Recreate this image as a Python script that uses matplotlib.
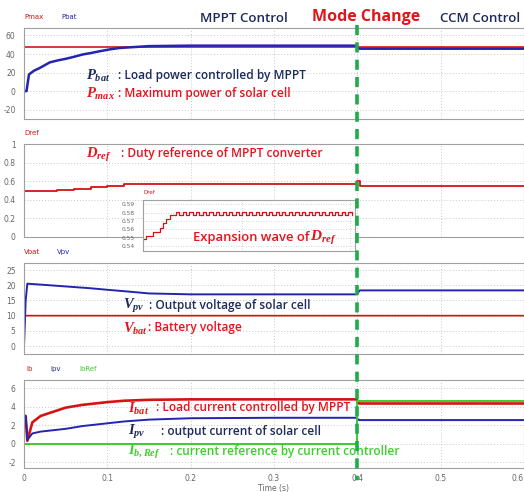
import numpy as np
import matplotlib
matplotlib.use("Agg")
import matplotlib.pyplot as plt
import matplotlib.transforms as mtransforms
from matplotlib.lines import Line2D

plt.rcParams['font.family'] = ['Open Sans', 'DejaVu Sans']
plt.rcParams['mathtext.fontset'] = 'custom'
plt.rcParams['mathtext.it'] = 'Liberation Serif:italic:bold'
plt.rcParams['mathtext.rm'] = 'Liberation Serif:bold'
plt.rcParams['mathtext.bf'] = 'Liberation Serif:bold'

# ---- data (time in s) ----
t_pbat = [0, 0.003, 0.006, 0.012, 0.019, 0.025, 0.031, 0.04, 0.051, 0.06, 0.071,
          0.08, 0.091, 0.103, 0.115, 0.131, 0.15, 0.2, 0.25, 0.3, 0.35, 0.399,
          0.402, 0.45, 0.5, 0.55, 0.6]
p_bat = [0, 0, 18, 22, 25, 28, 31, 33, 35, 37, 39.6,
         41, 43, 45, 46.5, 47.4, 48.5, 49, 49, 49, 49, 49,
         45.7, 45.7, 45.7, 45.7, 45.7]
t_pmax = [0, 0.6]
p_max = [48, 48]

t_dref = [0, 0.02, 0.04, 0.06, 0.08, 0.1, 0.12, 0.14, 0.4, 0.403, 0.6]
d_ref = [0.49, 0.50, 0.51, 0.52, 0.535, 0.55, 0.565, 0.575, 0.605, 0.545, 0.545]

# expansion (zoomed) Dref wave, one value per half period
inset_levels = [0.548, 0.552, 0.552, 0.557, 0.557, 0.562, 0.567, 0.572, 0.577, 0.577,
                0.581, 0.577, 0.581, 0.577, 0.581, 0.577, 0.581, 0.577, 0.581, 0.577,
                0.581, 0.577, 0.581, 0.577, 0.581, 0.577, 0.581, 0.577, 0.581, 0.577,
                0.581, 0.577, 0.581, 0.577, 0.581, 0.577, 0.581, 0.577, 0.581, 0.577,
                0.581, 0.577, 0.581, 0.577, 0.581, 0.577, 0.581, 0.577, 0.581, 0.577,
                0.581, 0.577, 0.581, 0.577, 0.581, 0.577, 0.581, 0.577, 0.581, 0.577,
                0.581, 0.577, 0.581, 0.577]

t_vpv = [0, 0.002, 0.004, 0.02, 0.05, 0.08, 0.1, 0.13, 0.15, 0.2, 0.3, 0.399,
         0.403, 0.45, 0.6]
v_pv = [0, 15, 20.5, 20.2, 19.6, 19.0, 18.5, 17.8, 17.3, 17.0, 17.0, 17.0,
        18.3, 18.3, 18.3]
t_vbat = [0, 0.001, 0.6]
v_bat = [5, 10, 10]

t_i = [0, 0.002, 0.004, 0.01, 0.02, 0.03, 0.05, 0.07, 0.1, 0.12, 0.15, 0.2,
       0.3, 0.399, 0.402, 0.6]
i_b = [3.0, 3.0, 0.3, 2.3, 3.0, 3.3, 3.9, 4.2, 4.5, 4.65, 4.75, 4.8,
       4.8, 4.8, 4.35, 4.35]
i_pv = [3.0, 3.0, 0.4, 1.1, 1.3, 1.4, 1.6, 1.9, 2.2, 2.4, 2.6, 2.75,
        2.8, 2.8, 2.55, 2.55]
t_ibref = [0, 0.4, 0.4, 0.6]
i_bref = [0, 0, 4.65, 4.65]

time_ticks = [0, 0.1, 0.2, 0.3, 0.4, 0.5, 0.6]
time_labels = ['0', '0.1', '0.2', '0.3', '0.4', '0.5', '0.6']
mode_change_t = 0.4

RED = '#d41414'
BLUE = '#2424b0'
GREEN = '#3ccc2c'
NAVY = '#1d2a5c'
TXT_RED = '#e3141c'
TXT_GREEN = '#3ccf2c'
DASH_GREEN = '#1faa4b'

W, H = 524, 492
fig = plt.figure(figsize=(W / 100, H / 100), dpi=100)


def px_box(left, top, right, bottom):
    return [left / W, 1 - bottom / H, (right - left) / W, (bottom - top) / H]


def style_axis(ax, yticks, ylabels, ylim, show_x=False):
    ax.set_xlim(0, 0.6)
    ax.set_ylim(*ylim)
    ax.set_xticks(time_ticks)
    ax.set_yticks(yticks)
    ax.set_yticklabels(ylabels, family='DejaVu Sans')
    if show_x:
        ax.set_xticklabels(time_labels, family='DejaVu Sans')
    else:
        ax.set_xticklabels([])
    ax.tick_params(length=0, labelsize=5.5, labelcolor='#666666', pad=6)
    ax.grid(True, color='#c8c8c8', linestyle=(0, (1, 2)), linewidth=0.7)
    for s in ax.spines.values():
        s.set_color('#a0a0a0')
        s.set_linewidth(0.8)


def ftext(x, y, s, **kw):
    return fig.text(x / W, 1 - y / H, s, va='center', ha='left', **kw)


def label(x_sym, x_desc, y, sym, desc, color):
    # symbol in bold italic serif, description in semibold sans
    ftext(x_sym, y + 1, sym, color=color, fontsize=10.5, zorder=10)
    ftext(x_desc, y, desc, color=color, fontsize=8.6, fontweight='semibold', zorder=10)


# panel 1 : power
ax1 = fig.add_axes(px_box(24, 28, 524, 119))
ax1.plot(t_pmax, p_max, color=RED, lw=1.2)
ax1.plot(t_pbat, p_bat, color=BLUE, lw=1.8)
style_axis(ax1, [-20, 0, 20, 40, 60], ['-20', '0', '20', '40', '60'], (-30, 68))

# panel 2 : duty reference
ax2 = fig.add_axes(px_box(24, 144, 524, 237))
ax2.plot(t_dref, d_ref, color=RED, lw=1.3, drawstyle='steps-post')
style_axis(ax2, [0, 0.2, 0.4, 0.6, 0.8, 1], ['0', '0.2', '0.4', '0.6', '0.8', '1'], (0, 1))

# panel 3 : voltages
ax3 = fig.add_axes(px_box(24, 263, 524, 354))
ax3.plot(t_vbat, v_bat, color=RED, lw=1.2)
ax3.plot(t_vpv, v_pv, color=BLUE, lw=1.4)
style_axis(ax3, [0, 5, 10, 15, 20, 25], ['0', '5', '10', '15', '20', '25'], (-2.6, 27.3))

# panel 4 : currents
ax4 = fig.add_axes(px_box(24, 380, 524, 468))
ax4.plot(t_i, i_b, color=RED, lw=1.9)
ax4.plot(t_i, i_pv, color=BLUE, lw=1.4)
ax4.plot(t_ibref, i_bref, color=GREEN, lw=1.4)
style_axis(ax4, [-2, 0, 2, 4, 6], ['-2', '0', '2', '4', '6'], (-2.65, 6.9), show_x=True)
ax4.tick_params(axis='x', pad=4)
ax4.get_xticklabels()[-1].set_horizontalalignment('right')
ftext(273, 488, 'Time (s)', fontsize=5.5, color='#666666', family='DejaVu Sans').set_ha('center')

# inset with the expanded Dref wave
axi = fig.add_axes(px_box(143, 200, 355, 251))
axi.plot(np.arange(len(inset_levels)), inset_levels, color=RED, lw=0.9,
         drawstyle='steps-post')
axi.set_xlim(0, 64)
axi.set_ylim(0.534, 0.595)
axi.set_xticks([30, 62.5])
axi.set_xticklabels([])
axi.set_yticks([0.54, 0.55, 0.56, 0.57, 0.58, 0.59])
axi.set_yticklabels(['0.54', '0.55', '0.56', '0.57', '0.58', '0.59'], family='DejaVu Sans')
axi.tick_params(length=0, labelsize=4.2, labelcolor='#666666', pad=6)
axi.grid(True, color='#c8c8c8', linestyle=(0, (1, 2)), linewidth=0.6)
for s in axi.spines.values():
    s.set_color('#a0a0a0')
    s.set_linewidth(0.8)
axi.set_zorder(5)

# small series names above panels
small = dict(fontsize=5, family='DejaVu Sans')
ftext(24, 17, 'Pmax', color=RED, **small)
ftext(61, 17, 'Pbat', color=BLUE, **small)
ftext(24, 133, 'Dref', color=RED, **small)
ftext(143, 193, 'Dref', color=RED, fontsize=4, family='DejaVu Sans')
ftext(24, 252, 'Vbat', color=RED, **small)
ftext(57, 252, 'Vpv', color=BLUE, **small)
ftext(26, 369, 'Ib', color=RED, **small)
ftext(50, 369, 'Ipv', color=BLUE, **small)
ftext(79, 369, 'IbRef', color=GREEN, **small)

# headers
ftext(200, 18, 'MPPT Control', color=NAVY, fontsize=9.6, fontweight='semibold')
ftext(312, 17, 'Mode Change', color=TXT_RED, fontsize=11.5, fontweight='bold')
ftext(440, 18, 'CCM Control', color=NAVY, fontsize=9.6, fontweight='semibold')

# annotations
label(86, 118, 75, r'$P_{bat}$', ': Load power controlled by MPPT', NAVY)
label(86, 118, 93, r'$P_{max}$', ': Maximum power of solar cell', TXT_RED)
label(86, 121, 154, r'$D_{ref}$', ': Duty reference of MPPT converter', TXT_RED)
ftext(193, 237, 'Expansion wave of', color=TXT_RED, fontsize=9.4,
      fontweight='semibold', zorder=10)
ftext(310, 238, r'$D_{ref}$', color=TXT_RED, fontsize=11, zorder=10)
label(123, 149, 305, r'$V_{pv}$', ': Output voltage of solar cell', NAVY)
label(123, 148, 328, r'$V_{bat}$', ': Battery voltage', TXT_RED)
label(128, 156, 408, r'$I_{bat}$', ': Load current controlled by MPPT', TXT_RED)
label(128, 161, 431, r'$I_{pv}$', ': output current of solar cell', NAVY)
label(128, 170, 451, r'$I_{b,Ref}$', ': current reference by current controller', TXT_GREEN)

# mode change dashed line across all panels
trans = mtransforms.blended_transform_factory(ax4.transData, fig.transFigure)
fig.add_artist(Line2D([mode_change_t, mode_change_t], [1 - 25 / H, 1 - 480 / H],
                      transform=trans, color=DASH_GREEN, lw=2.6,
                      linestyle=(0, (2.8, 2.0)), zorder=20))

fig.savefig('out.png', dpi=100)
